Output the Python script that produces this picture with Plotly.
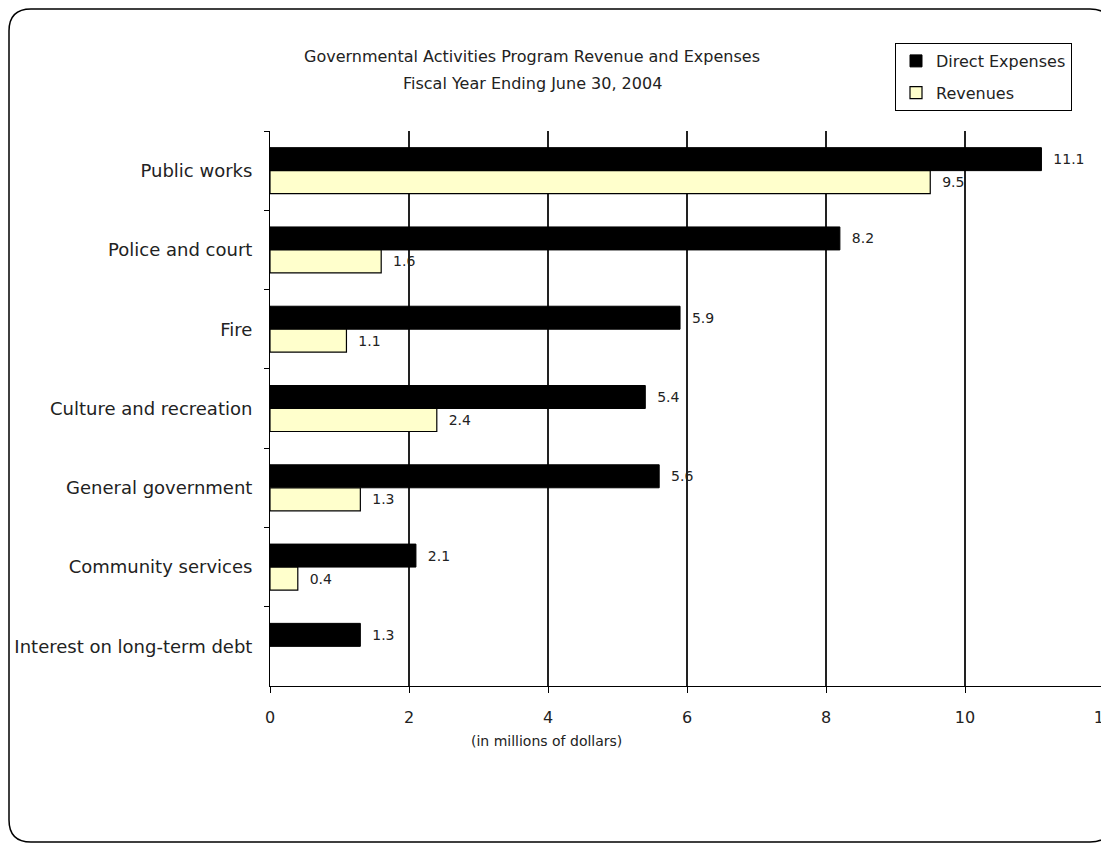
import plotly.graph_objects as go

categories = ["Public works", "Police and court", "Fire", "Culture and recreation",
              "General government", "Community services", "Interest on long-term debt"]
direct_expenses = [11.1, 8.2, 5.9, 5.4, 5.6, 2.1, 1.3]
revenues = [9.5, 1.6, 1.1, 2.4, 1.3, 0.4, None]
x_ticks = [0, 2, 4, 6, 8, 10, 12]

OFF = 8  # page body margin
W, H = 1109 - OFF, 843 - OFF
L, T = 270 - OFF, 131 - OFF
R = W - (1104 - OFF)
B = H - (686 - OFF)
PW, PH = W - L - R, H - T - B

def px(x):
    return (x - OFF - L) / PW

def py(y):
    return 1 - (y - OFF - T) / PH

FONT = "DejaVu Sans"
TXT = "#222222"

fig = go.Figure()
fig.add_trace(go.Bar(
    y=categories, x=direct_expenses, orientation="h", name="Direct Expenses",
    marker=dict(color="#000000", line=dict(color="#000000", width=1)),
    texttemplate="  %{x:.1f}", textposition="outside", cliponaxis=False,
    textfont=dict(family=FONT, size=14, color=TXT), legendgroup="a"))
fig.add_trace(go.Bar(
    y=categories, x=revenues, orientation="h", name="Revenues",
    marker=dict(color="#FFFFCC", line=dict(color="#000000", width=1.2)),
    texttemplate="  %{x:.1f}", textposition="outside", cliponaxis=False,
    textfont=dict(family=FONT, size=14, color=TXT), legendgroup="b"))

r = 22
x0, x1, y0, y1 = px(9), px(1112), py(9), py(842)
rx, ry = r / PW, r / PH
frame = (f"M {x0},{y0 - ry} Q {x0},{y0} {x0 + rx},{y0} L {x1 - rx},{y0} "
         f"Q {x1},{y0} {x1},{y0 - ry} L {x1},{y1 + ry} Q {x1},{y1} {x1 - rx},{y1} "
         f"L {x0 + rx},{y1} Q {x0},{y1} {x0},{y1 + ry} Z")

fig.update_layout(
    width=W, height=H,
    margin=dict(l=L, r=R, t=T, b=B, autoexpand=False),
    paper_bgcolor="white", plot_bgcolor="white",
    font=dict(family=FONT, color=TXT),
    barmode="group", bargap=0.42, bargroupgap=0,
    showlegend=True,
    legend=dict(x=px(895), y=py(43), xanchor="left", yanchor="top",
                bordercolor="#000000", borderwidth=1, bgcolor="white",
                font=dict(family=FONT, size=16, color=TXT),
                traceorder="grouped", tracegroupgap=8, itemwidth=30),
    xaxis=dict(range=[0, 12], tickvals=x_ticks, showgrid=True, gridcolor="#222222",
               gridwidth=2, zeroline=False, showline=True, linecolor="#000000",
               linewidth=1, ticks="outside", ticklen=6, tickcolor="#000000",
               tickfont=dict(family=FONT, size=16, color=TXT), ticklabelstandoff=11,
               ticklabeloverflow="allow", automargin=False),
    yaxis=dict(autorange="reversed", showgrid=False, zeroline=False, showline=True,
               linecolor="#000000", linewidth=1, ticks="outside", ticklen=5,
               tickcolor="#000000", tickson="boundaries", automargin=False,
               tickfont=dict(family=FONT, size=18, color=TXT), ticklabelstandoff=13),
    shapes=[
        dict(type="line", xref="paper", yref="paper", x0=1, x1=1, y0=0, y1=1,
             line=dict(color="#888888", width=2), layer="above"),
        dict(type="path", xref="paper", yref="paper", path=frame,
             line=dict(color="#000000", width=1.5), fillcolor="rgba(0,0,0,0)"),
    ],
    annotations=[
        dict(text="Governmental Activities Program Revenue and Expenses",
             x=px(532), y=py(56), xref="paper", yref="paper", showarrow=False,
             xanchor="center", yanchor="middle",
             font=dict(family=FONT, size=16, color=TXT)),
        dict(text="Fiscal Year Ending June 30, 2004",
             x=px(532), y=py(84), xref="paper", yref="paper", showarrow=False,
             xanchor="center", yanchor="middle",
             font=dict(family=FONT, size=16, color=TXT)),
        dict(text="(in millions of dollars)",
             x=px(546), y=py(741), xref="paper", yref="paper", showarrow=False,
             xanchor="center", yanchor="middle",
             font=dict(family=FONT, size=14, color=TXT)),
    ],
)

fig.write_html("out.html")
